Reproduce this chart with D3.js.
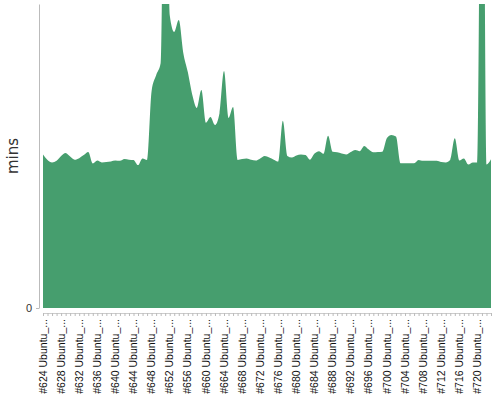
<!DOCTYPE html>
<html>
<head>
<meta charset="utf-8">
<script src="https://cdn.jsdelivr.net/npm/d3@7"></script>
<style>
  body { margin: 0; background: #fff; }
  svg { display: block; font-family: "DejaVu Sans", sans-serif; }
</style>
</head>
<body>
<div id="chart"></div>
<script>
// build numbers on the x axis
const builds = [
  624, 625, 626, 627, 628, 629, 630, 631, 632, 633, 634, 635, 636, 637, 638, 639, 640, 641, 642, 643,
  644, 645, 646, 647, 648, 649, 650, 651, 652, 653, 654, 655, 656, 657, 658, 659, 660, 661, 662, 663,
  664, 665, 666, 667, 668, 669, 670, 671, 672, 673, 674, 675, 676, 677, 678, 679, 680, 681, 682, 683,
  684, 685, 686, 687, 688, 689, 690, 691, 692, 693, 694, 695, 696, 697, 698, 699, 700, 701, 702, 703,
  704, 705, 706, 707, 708, 709, 710, 711, 712, 713, 714, 715, 716, 717, 718, 719, 720, 721, 722, 723
];
// build duration, minutes
const mins = [
  50.5, 48.7, 47.9, 48.4, 50.0, 51.0, 49.8, 48.8, 49.3, 50.3, 51.3, 47.5, 48.5, 47.9, 48.0, 48.2, 48.5, 48.4, 49.0, 48.8,
  48.7, 47.0, 49.2, 48.7, 71.4, 76.6, 80.6, 190, 96.4, 90.8, 94.7, 83.9, 77.6, 70.1, 65.8, 71.7, 60.9, 62.8, 60.2, 64.1,
  78.0, 62.5, 66.1, 48.7, 49.0, 49.2, 48.8, 48.5, 49.2, 50.0, 49.5, 48.8, 48.2, 61.6, 50.0, 49.5, 50.2, 50.5, 50.3, 48.8,
  50.8, 51.6, 50.7, 56.7, 51.4, 51.2, 50.8, 50.5, 51.3, 52.0, 51.6, 53.3, 52.1, 51.2, 51.3, 51.4, 55.9, 56.9, 56.4, 47.6,
  47.6, 47.6, 47.6, 48.7, 48.4, 48.4, 48.4, 48.4, 48.0, 47.9, 48.8, 55.8, 48.5, 49.2, 47.2, 47.9, 47.9, 240, 47.2, 48.9
];
const jobName = "Ubuntu_...";
const yTicks = [0];
const labelStep = 4;

const width = 500, height = 400;
const margin = {top: 4, right: 9, bottom: 92, left: 43};

let svg = d3.select("#chart")
    .append("svg")
    .attr("width", width)
    .attr("height", height);

// scales
let x = d3.scalePoint()
    .domain(builds)
    .range([margin.left, width - margin.right]);
let y = d3.scaleLinear()
    .domain([0, 100])
    .range([height - margin.bottom, margin.top]);

// clip so the big spikes get cut at the top
svg.append("clipPath")
    .attr("id", "plot-clip")
    .append("rect")
    .attr("x", margin.left - 3)
    .attr("y", margin.top)
    .attr("width", width - margin.left - margin.right + 6)
    .attr("height", height - margin.top - margin.bottom + 2);

let data = builds.map((b, i) => ({build: b, mins: mins[i]}));

let area = d3.area()
    .curve(d3.curveMonotoneX)
    .x(d => x(d.build))
    .y0(y(0))
    .y1(d => y(d.mins));

svg.append("path")
    .datum(data)
    .attr("clip-path", "url(#plot-clip)")
    .attr("fill", "#469e6e")
    .attr("d", area);

// y axis
let yAxis = svg.append("g")
    .attr("transform", `translate(${margin.left - 4}, 0)`)
    .call(d3.axisLeft(y).tickValues(yTicks).tickSize(3).tickSizeOuter(0).tickPadding(4));
yAxis.select(".domain").attr("stroke", "#bbb");
yAxis.selectAll(".tick line").attr("stroke", "#bbb");
yAxis.selectAll(".tick text")
    .style("font-size", "11px")
    .attr("fill", "#333");

// x axis
let xAxis = svg.append("g")
    .attr("transform", `translate(0, ${height - margin.bottom + 5})`)
    .call(d3.axisBottom(x)
        .tickSize(3)
        .tickSizeOuter(0)
        .tickFormat((d, i) => i % labelStep === 0 ? `#${d} ${jobName}` : ""));
xAxis.select(".domain").attr("stroke", "#ccc");
xAxis.selectAll(".tick line").attr("stroke", "#bbb");
xAxis.selectAll(".tick text")
    .attr("transform", "rotate(-90)")
    .attr("x", -6)
    .attr("y", 0)
    .attr("dy", "0.3em")
    .style("text-anchor", "end")
    .style("font-size", "10.5px")
    .attr("fill", "#111");

// y axis label
svg.append("text")
    .attr("transform", `translate(18, ${(margin.top + height - margin.bottom) / 2}) rotate(-90)`)
    .style("text-anchor", "middle")
    .style("font-size", "15px")
    .attr("fill", "#333")
    .text("mins");
</script>
</body>
</html>
